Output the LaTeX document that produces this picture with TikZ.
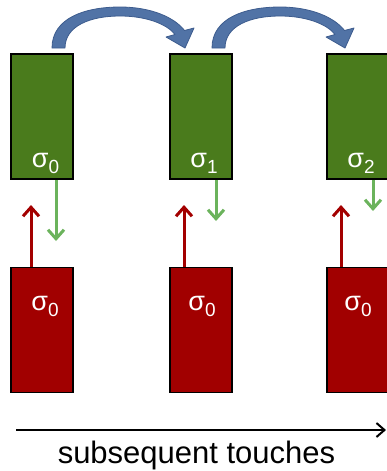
\documentclass[tikz,border=0pt]{standalone}
\usepackage{fontspec}
\setmainfont{Liberation Sans}
\usetikzlibrary{arrows.meta}
\definecolor{boxgreen}{HTML}{4A7B1C}
\definecolor{boxred}{HTML}{A10000}
\definecolor{arrgreen}{HTML}{6BB35C}
\definecolor{arrred}{HTML}{A30000}
\definecolor{curvefill}{HTML}{5173A6}
\definecolor{curveline}{HTML}{3D5C8E}
\newcommand{\sigl}[1]{σ\raisebox{-6pt}{\fontsize{19}{19}\selectfont #1}}
\tikzset{
  gbox/.style={draw=black, line width=1.5pt, fill=boxgreen, minimum width=62pt, minimum height=125pt, inner sep=0pt},
  rbox/.style={draw=black, line width=1.5pt, fill=boxred, minimum width=62pt, minimum height=125pt, inner sep=0pt},
  lab/.style={text=white, font=\fontsize{27}{27}\selectfont, inner sep=0pt, anchor=base},
  redarr/.style={draw=arrred, line width=3pt, -{Straight Barb[length=9pt,width=16pt,line width=3pt]}},
  greenarr/.style={draw=arrgreen, line width=3pt, -{Straight Barb[length=9pt,width=16pt,line width=3pt]}},
  curvearr/.style={fill=curvefill, draw=curveline, line width=0.8pt, line join=round},
}
\begin{document}
\begin{tikzpicture}[x=1pt,y=-1pt]
\useasboundingbox (0,0) rectangle (387,471);
% green boxes
\node[gbox] (g1) at (42,116.5) {};
\node[gbox] (g2) at (201,116.5) {};
\node[gbox] (g3) at (358,116.5) {};
% red boxes
\node[rbox] (r1) at (42,330) {};
\node[rbox] (r2) at (201,330) {};
\node[rbox] (r3) at (358,330) {};
% labels
\node[lab] (lg1) at (45.5,167) {\sigl{0}};
\node[lab] (lg2) at (204,167) {\sigl{1}};
\node[lab] (lg3) at (361,167) {\sigl{2}};
\node[lab] (lr1) at (45,310) {\sigl{0}};
\node[lab] (lr2) at (202,310) {\sigl{0}};
\node[lab] (lr3) at (358,310) {\sigl{0}};
% arrow tips
\coordinate (rt1) at (31,205);
\coordinate (rt2) at (184,205);
\coordinate (rt3) at (341,205);
\coordinate (gt1) at (56,241);
\coordinate (gt2) at (216,221);
\coordinate (gt3) at (373,211);
\draw[redarr] (r1.north -| rt1) -- (rt1);
\draw[redarr] (r2.north -| rt2) -- (rt2);
\draw[redarr] (r3.north -| rt3) -- (rt3);
\draw[greenarr] (g1.south -| gt1) -- (gt1);
\draw[greenarr] (g2.south -| gt2) -- (gt2);
\draw[greenarr] (g3.south -| gt3) -- (gt3);
% curved arrows
\foreach \dx in {0,160}{
\begin{scope}[xshift=\dx]
\path[curvearr] (52,48) .. controls (52,18) and (85,7) .. (120,7)
  .. controls (152,7) and (175,18) .. (184.5,30.5)
  -- (194,28) -- (185,48) -- (166,37) -- (175,34.5)
  .. controls (167,24) and (146,16) .. (120,16)
  .. controls (90,16) and (65,26) .. (65,48) -- cycle;
\end{scope}
}
% bottom axis
\coordinate (ax0) at (16,430);
\coordinate (ax1) at (386,430);
\draw[line width=2pt, -{Straight Barb[length=8pt,width=14pt,line width=2pt]}] (ax0) -- (ax1);
\node[font=\fontsize{31}{31}\selectfont, inner sep=0pt, anchor=base] (cap) at (196.5,463) {subsequent touches};
\end{tikzpicture}
\end{document}
